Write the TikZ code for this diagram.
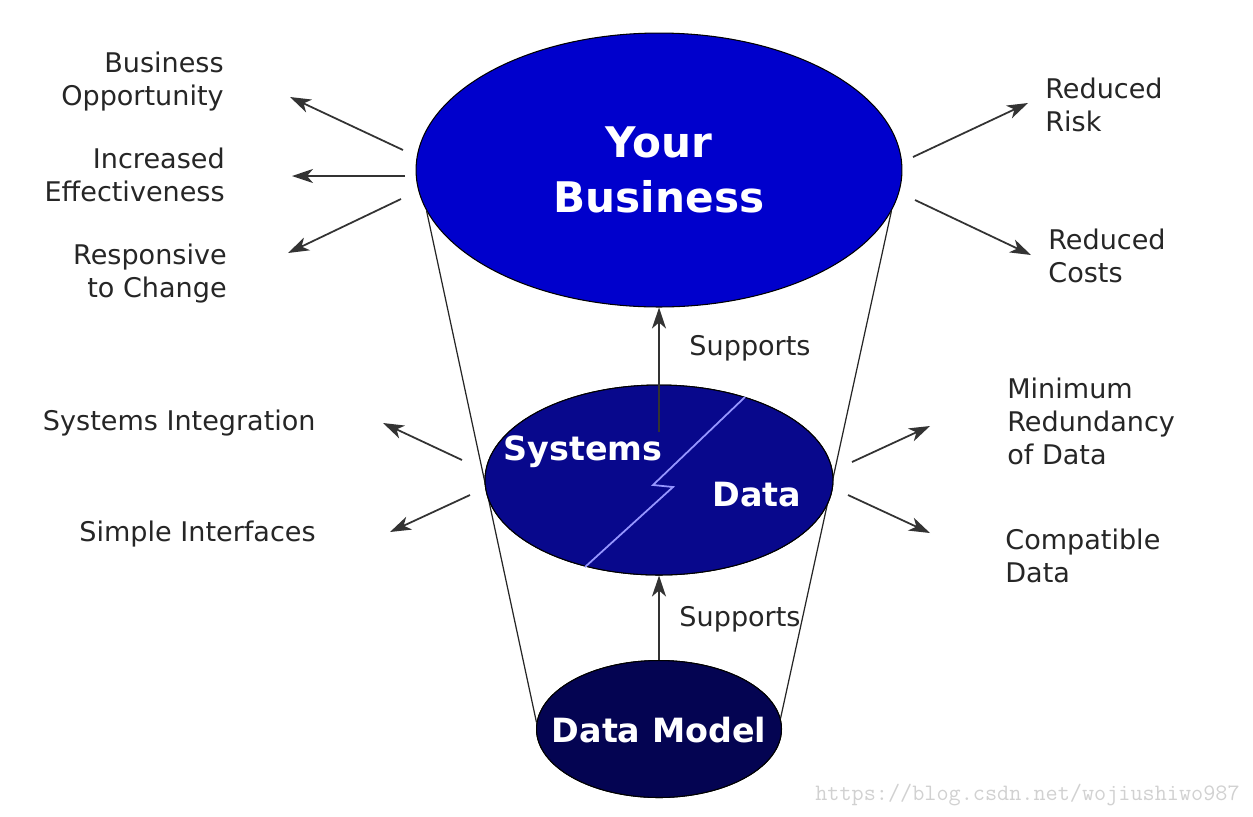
\documentclass[tikz,border=0pt]{standalone}
\usepackage{fontspec}
\setmainfont{DejaVu Sans}
\usetikzlibrary{shapes.geometric,arrows.meta}
\definecolor{bizblue}{RGB}{0,0,204}
\definecolor{sysblue}{RGB}{8,8,140}
\definecolor{modelblue}{RGB}{4,4,82}
\definecolor{zigblue}{RGB}{150,150,255}
\tikzset{
  oval/.style={ellipse, draw=black, line width=0.6pt, inner sep=0pt},
  inoval/.style={text=white, inner sep=0pt, font=\bfseries\fontsize{19}{23}\selectfont},
  lbl/.style={text=black!85, inner sep=0pt, font=\fontsize{15.4}{18.8}\selectfont},
  arr/.style={draw=black!80, line width=1pt, -{Stealth[length=0.42cm,width=0.28cm,inset=0.12cm]}},
  funnel/.style={draw=black!85, line width=0.7pt}
}
\begin{document}
\begin{tikzpicture}[x=0.02cm, y=-0.02cm]
  \useasboundingbox (0,0) rectangle (1253,816);
  % ellipses
  \node[oval, fill=bizblue, minimum width=9.72cm, minimum height=5.48cm] (biz) at (659,170) {};
  \node[oval, fill=sysblue, minimum width=6.96cm, minimum height=3.8cm] (mid) at (659,480) {};
  \node[oval, fill=modelblue, minimum width=4.9cm, minimum height=2.74cm] (base) at (659,729) {};
  \draw[funnel] (biz.190) -- (base.177);
  \draw[funnel] (biz.350) -- (base.5);
  % redraw on top of the funnel lines
  \node[oval, fill=sysblue, minimum width=6.96cm, minimum height=3.8cm] at (659,480) {};
  \node[oval, fill=modelblue, minimum width=4.9cm, minimum height=2.74cm] at (659,729) {};
  \node[inoval, align=center, font=\bfseries\fontsize{24}{31}\selectfont] (yb) at (659,170) {Your\\Business};
  \node[inoval] (sys) at (583,452) {Systems};
  \node[inoval] (dat) at (757,495) {Data};
  \node[inoval] (dm) at (659,730) {Data Model};
  \draw[zigblue, line width=1pt] (745,397) -- (653,485) -- (673,487) -- (585,567);

  % supports
  \coordinate (up) at (659,432);
  \draw[arr] (up) -- (biz.south);
  \draw[arr] (base.north) -- (mid.south);
  \node[lbl] (sup1) at (750,348) {Supports};
  \node[lbl] (sup2) at (740,619) {Supports};

  % labels
  \node[lbl, align=right, anchor=east] (bo) at (224,81.5) {Business\\Opportunity};
  \node[lbl, align=right, anchor=east] (ie) at (225,175) {Increased\\Effectiveness};
  \node[lbl, align=right, anchor=east] (rc) at (227,273.5) {Responsive\\to Change};
  \node[lbl, align=left, anchor=west] (rr) at (1045,105) {Reduced\\Risk};
  \node[lbl, align=left, anchor=west] (rcost) at (1048,255.5) {Reduced\\Costs};
  \node[lbl, align=left, anchor=west] (mr) at (1007,421.5) {Minimum\\Redundancy\\of Data};
  \node[lbl, align=left, anchor=west] (cd) at (1005,555.5) {Compatible\\Data};
  \node[lbl, anchor=east] (si) at (316,423) {Systems Integration};
  \node[lbl, anchor=east] (sif) at (316,534) {Simple Interfaces};

  % arrows out of the ellipses
  \coordinate (bo0) at (403,150);   \coordinate (bo1) at (290,97);
  \coordinate (ie0) at (405,176);   \coordinate (ie1) at (292,176);
  \coordinate (rc0) at (401,199);   \coordinate (rc1) at (288,253);
  \coordinate (rr0) at (913,157);   \coordinate (rr1) at (1028,103);
  \coordinate (rcost0) at (915,200); \coordinate (rcost1) at (1031,255);
  \coordinate (mr0) at (852,462);   \coordinate (mr1) at (930,426);
  \coordinate (cd0) at (848,495);   \coordinate (cd1) at (930,533);
  \coordinate (si0) at (462,460);   \coordinate (si1) at (383,423);
  \coordinate (sif0) at (470,495);  \coordinate (sif1) at (390,532);
  \foreach \n in {bo,ie,rc,rr,rcost,mr,cd,si,sif}
    \draw[arr] (\n0) -- (\n1);

  \node[text=black!18, inner sep=0pt, anchor=east, font=\ttfamily\fontsize{13.4}{16}\selectfont] (wm) at (1240,795) {https://blog.csdn.net/wojiushiwo987};
\end{tikzpicture}
\end{document}
